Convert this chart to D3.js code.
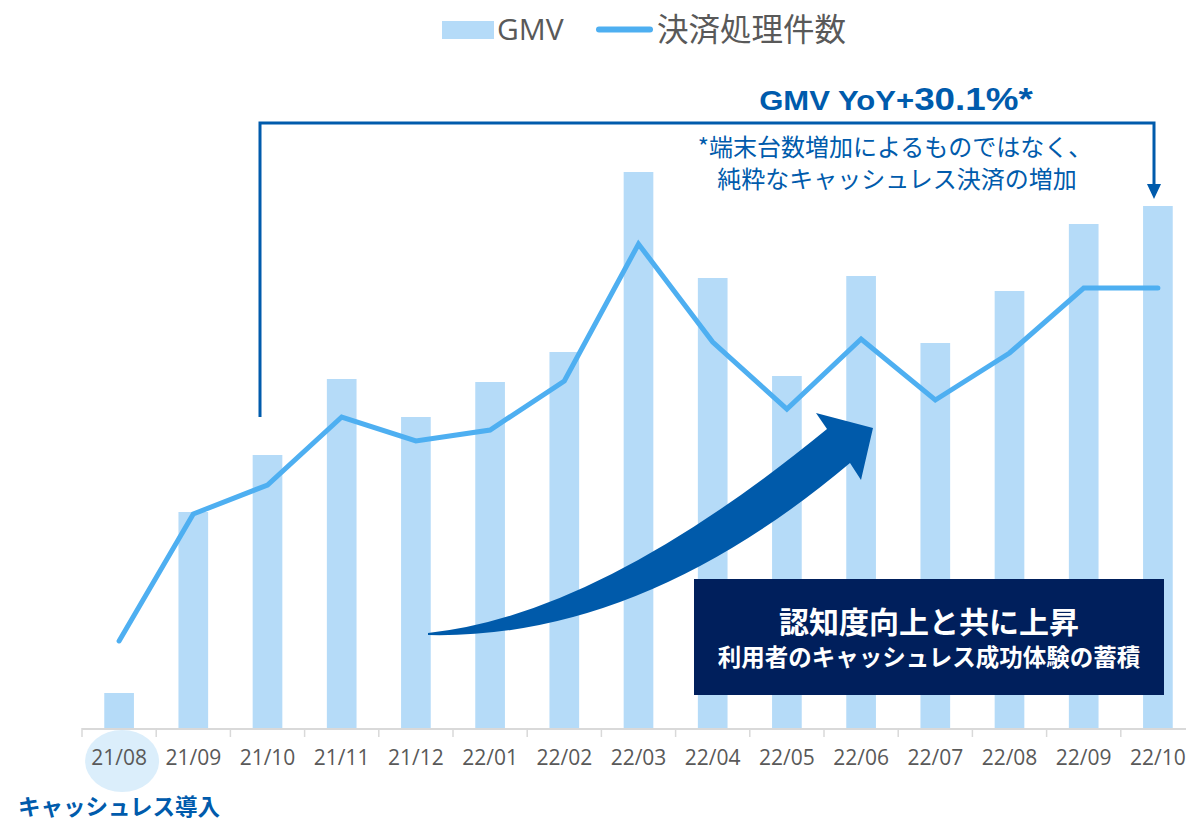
<!DOCTYPE html>
<html>
<head>
<meta charset="utf-8">
<script src="https://cdn.jsdelivr.net/npm/d3@7"></script>
<style>
  body { margin: 0; background: #fff; }
  svg { display: block; }
</style>
</head>
<body>
<div id="chart"></div>
<script>
// months on the x axis
const months = ["21/08", "21/09", "21/10", "21/11", "21/12", "22/01", "22/02",
  "22/03", "22/04", "22/05", "22/06", "22/07", "22/08", "22/09", "22/10"];
// GMV (bars) in relative units
const gmv = [35, 216, 273, 349, 311, 346, 376, 556, 450, 352, 452, 385, 437, 504, 522];
// number of payments (line), relative units
const txCount = [87, 214, 243, 311, 287, 298, 347, 484, 386, 319, 389, 328, 375, 440, 440];

const legendLabels = ["GMV", "決済処理件数"];

const width = 1186, height = 821;
const baseY = 728;

const svg = d3.select("#chart")
  .append("svg")
  .attr("width", width)
  .attr("height", height);

const xScale = d3.scaleBand()
  .domain(months)
  .range([82, 1195])
  .padding(0);

const bw = xScale.bandwidth();

const yScale = d3.scaleLinear()
  .domain([0, 600])
  .range([baseY, baseY - 600]);

const yLine = d3.scaleLinear()
  .domain([0, 600])
  .range([baseY, baseY - 600]);

const jpFont = "'Noto Sans CJK JP', 'Noto Sans', sans-serif";

// highlight circle behind first label
svg.append("ellipse")
  .attr("cx", xScale(months[0]) + bw / 2 + 3)
  .attr("cy", 761)
  .attr("rx", 37)
  .attr("ry", 31)
  .attr("fill", "#dbeefb");

// bars
svg.selectAll(".bar")
  .data(months)
  .enter()
  .append("rect")
  .attr("class", "bar")
  .attr("x", d => xScale(d) + bw * 0.3)
  .attr("width", bw * 0.4)
  .attr("y", (d, i) => yScale(gmv[i]))
  .attr("height", (d, i) => baseY - yScale(gmv[i]))
  .attr("fill", "#b5dbf8");

// x axis
const xAxis = d3.axisBottom(xScale).tickSize(0).tickPadding(22);
const ax = svg.append("g")
  .attr("transform", `translate(0, ${baseY})`)
  .call(xAxis);
ax.select(".domain").remove();
ax.selectAll("text")
  .attr("font-family", "'Open Sans', 'Noto Sans', sans-serif")
  .attr("font-size", "21px")
  .attr("fill", "#595959");

svg.append("line")
  .attr("x1", 82).attr("x2", width)
  .attr("y1", baseY + 1).attr("y2", baseY + 1)
  .attr("stroke", "#d9d9d9")
  .attr("stroke-width", 2);

svg.selectAll(".xtick")
  .data(months)
  .enter()
  .append("line")
  .attr("class", "xtick")
  .attr("x1", d => xScale(d))
  .attr("x2", d => xScale(d))
  .attr("y1", baseY)
  .attr("y2", baseY + 9)
  .attr("stroke", "#d9d9d9")
  .attr("stroke-width", 1.5);

// line
const line = d3.line()
  .x(d => xScale(d.m) + bw / 2)
  .y(d => yLine(d.v));

svg.append("path")
  .datum(months.map((m, i) => ({ m: m, v: txCount[i] })))
  .attr("d", line)
  .attr("fill", "none")
  .attr("stroke", "#4eaff1")
  .attr("stroke-width", 5)
  .attr("stroke-linejoin", "miter")
  .attr("stroke-linecap", "round");

// legend
svg.append("rect")
  .attr("x", 442).attr("y", 21)
  .attr("width", 52).attr("height", 18)
  .attr("fill", "#b5dbf8");
svg.append("text")
  .attr("x", 497).attr("y", 40)
  .attr("font-family", "'Open Sans', 'Noto Sans', sans-serif")
  .attr("font-size", "30px")
  .attr("fill", "#595959")
  .text(legendLabels[0]);
svg.append("line")
  .attr("x1", 599).attr("x2", 650)
  .attr("y1", 29.5).attr("y2", 29.5)
  .attr("stroke", "#4eaff1")
  .attr("stroke-width", 6)
  .attr("stroke-linecap", "round");
svg.append("text")
  .attr("x", 657).attr("y", 41)
  .attr("font-family", jpFont)
  .attr("font-size", "31.5px")
  .attr("fill", "#595959")
  .text(legendLabels[1]);

// YoY bracket
const blue = "#005bac";
svg.append("path")
  .attr("d", "M260,417 V123 H1154 V186")
  .attr("fill", "none")
  .attr("stroke", blue)
  .attr("stroke-width", 3);
svg.append("path")
  .attr("d", "M1147,184 L1161,184 L1154,199 Z")
  .attr("fill", blue);

const yoy = svg.append("text")
  .attr("transform", "translate(896,110) scale(1.15,1)")
  .attr("text-anchor", "middle")
  .attr("font-family", "'Liberation Sans', Arial, sans-serif")
  .attr("font-weight", "bold")
  .attr("fill", blue);
yoy.append("tspan").attr("font-size", "27px").text("GMV YoY+");
yoy.append("tspan").attr("font-size", "32px").text("30.1%*");

svg.append("text")
  .attr("x", 895).attr("y", 156)
  .attr("text-anchor", "middle")
  .attr("font-family", jpFont)
  .attr("font-size", "24px")
  .attr("fill", blue)
  .text("*端末台数増加によるものではなく、");
svg.append("text")
  .attr("x", 897).attr("y", 188)
  .attr("text-anchor", "middle")
  .attr("font-family", jpFont)
  .attr("font-size", "24px")
  .attr("fill", blue)
  .text("純粋なキャッシュレス決済の増加");

// curved arrow
svg.append("path")
  .attr("d", "M428,633 Q600,615 827,429 L816,413 L873,428 L861,480 L850,463 Q640,640 428,635 Z")
  .attr("fill", "#005aaa");

// dark box
svg.append("rect")
  .attr("x", 694).attr("y", 579)
  .attr("width", 470).attr("height", 116)
  .attr("fill", "#001f5c");
svg.append("text")
  .attr("x", 929).attr("y", 633)
  .attr("text-anchor", "middle")
  .attr("font-family", jpFont)
  .attr("font-weight", "bold")
  .attr("font-size", "30px")
  .attr("fill", "#fff")
  .text("認知度向上と共に上昇");
svg.append("text")
  .attr("x", 929).attr("y", 666)
  .attr("text-anchor", "middle")
  .attr("font-family", jpFont)
  .attr("font-weight", "bold")
  .attr("font-size", "23.5px")
  .attr("fill", "#fff")
  .text("利用者のキャッシュレス成功体験の蓄積");

// first month note
svg.append("text")
  .attr("x", 18).attr("y", 815)
  .attr("font-family", jpFont)
  .attr("font-weight", "bold")
  .attr("font-size", "22.5px")
  .attr("fill", blue)
  .text("キャッシュレス導入");
</script>
</body>
</html>
